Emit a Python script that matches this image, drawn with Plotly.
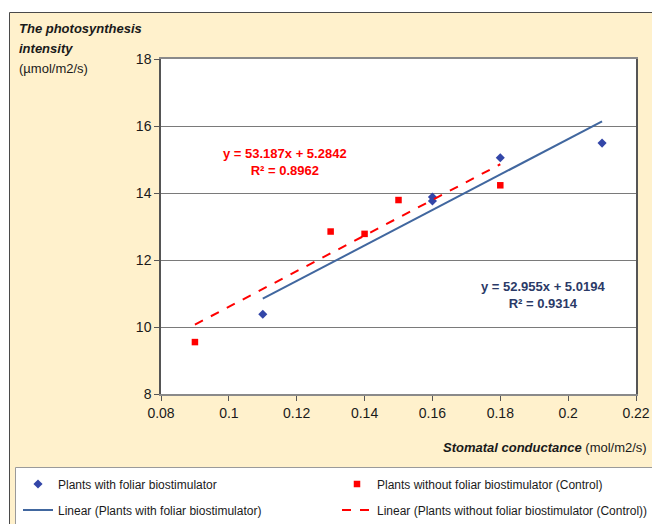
import plotly.graph_objects as go

# ---- data ----
x_with = [0.11, 0.16, 0.16, 0.18, 0.21]
y_with = [10.38, 13.88, 13.76, 15.05, 15.49]
x_ctrl = [0.09, 0.13, 0.14, 0.15, 0.18]
y_ctrl = [9.55, 12.85, 12.78, 13.79, 14.23]

fit_with = (52.955, 5.0194)   # slope, intercept (Excel trendline)
fit_ctrl = (53.187, 5.2842)

name_with = "Plants with foliar biostimulator"
name_ctrl = "Plants without foliar biostimulator (Control)"
eq_with = "y = 52.955x + 5.0194<br>R² = 0.9314"
eq_ctrl = "y = 53.187x + 5.2842<br>R² = 0.8962"
y_title_lines = ["<b><i>The photosynthesis</i></b>", "<b><i>intensity</i></b>", "(µmol/m2/s)"]
x_title = "<b><i>Stomatal conductance</i></b> (mol/m2/s)"

x_ticks = [0.08, 0.10, 0.12, 0.14, 0.16, 0.18, 0.20, 0.22]
x_ticktext = ["0.08", "0.1", "0.12", "0.14", "0.16", "0.18", "0.2", "0.22"]
y_ticks = [8, 10, 12, 14, 16, 18]

# ---- geometry (pixels) ----
W, H = 652, 524
L, R, T, B = 161, 16, 59, 130
PW, PH = W - L - R, H - T - B

def px(x):
    return (x - L) / PW

def py(y):
    return (H - B - y) / PH

FONT = "Liberation Sans Narrow, Arial Narrow, Liberation Sans, Arial, sans-serif"
BLUE_M = "#3346A8"
BLUE_L = "#41679F"
RED = "#FF0000"
NAVY = "#2B3A67"
TXT = "#1a1a1a"

def line_pts(xs, fit):
    a, b = fit
    xx = [min(xs), max(xs)]
    return xx, [a * v + b for v in xx]

fig = go.Figure()

fig.add_trace(go.Scatter(x=x_with, y=y_with, mode="markers", name=name_with,
                         marker=dict(symbol="diamond", size=7, color=BLUE_M),
                         legend="legend"))
fig.add_trace(go.Scatter(x=x_ctrl, y=y_ctrl, mode="markers", name=name_ctrl,
                         marker=dict(symbol="square", size=6.5, color=RED),
                         legend="legend"))
lx, ly = line_pts(x_with, fit_with)
fig.add_trace(go.Scatter(x=lx, y=ly, mode="lines", name="Linear (" + name_with + ")",
                         line=dict(color=BLUE_L, width=2), legend="legend2"))
lx, ly = line_pts(x_ctrl, fit_ctrl)
fig.add_trace(go.Scatter(x=lx, y=ly, mode="lines", name="Linear (" + name_ctrl + ")",
                         line=dict(color=RED, width=2, dash="dash"), legend="legend2"))

shapes = [
    # cream chart area
    dict(type="rect", xref="paper", yref="paper", layer="below",
         x0=px(9.5), x1=px(670), y0=py(540), y1=py(12.5),
         fillcolor="#FFF1CC", line=dict(color="#4a4a4a", width=1)),
    # white plot area
    dict(type="rect", xref="paper", yref="paper", layer="below",
         x0=0, x1=1, y0=0, y1=1, fillcolor="white", line=dict(width=0)),
    # legend box
    dict(type="rect", xref="paper", yref="paper", layer="below",
         x0=px(15.5), x1=px(670), y0=py(540), y1=py(467.5),
         fillcolor="white", line=dict(color="#9a9a9a", width=1)),
]

annotations = []
for txt, yy in zip(y_title_lines, [29, 49, 69]):
    annotations.append(dict(text=txt, x=px(17), y=py(yy), xref="paper", yref="paper",
                            xanchor="left", yanchor="middle", showarrow=False,
                            font=dict(family=FONT, size=13, color=TXT)))
annotations += [
    dict(text=x_title, x=px(649), y=py(447), xref="paper", yref="paper",
         xanchor="right", yanchor="middle", showarrow=False,
         font=dict(family=FONT, size=13, color=TXT)),
    dict(text="<b>" + eq_ctrl + "</b>", x=px(285), y=py(162), xref="paper", yref="paper",
         xanchor="center", yanchor="middle", showarrow=False,
         font=dict(family=FONT, size=13, color=RED)),
    dict(text="<b>" + eq_with + "</b>", x=px(543), y=py(295), xref="paper", yref="paper",
         xanchor="center", yanchor="middle", showarrow=False,
         font=dict(family=FONT, size=13, color=NAVY)),
]

leg_common = dict(orientation="h", bgcolor="rgba(0,0,0,0)", borderwidth=0,
                  font=dict(family=FONT, size=12, color=TXT),
                  entrywidth=274, entrywidthmode="pixels",
                  xanchor="left", yanchor="middle", x=px(18))

fig.update_layout(
    width=W, height=H,
    margin=dict(l=L, r=R, t=T, b=B, autoexpand=False),
    paper_bgcolor="white", plot_bgcolor="rgba(0,0,0,0)",
    showlegend=True,
    legend=dict(**leg_common, y=py(484)),
    legend2=dict(**leg_common, y=py(510)),
    shapes=shapes, annotations=annotations,
    xaxis=dict(range=[0.08, 0.22], tickvals=x_ticks, ticktext=x_ticktext,
               showgrid=False, zeroline=False, showline=True, linecolor="#8a8a8a",
               linewidth=1.5, mirror=True, ticks="outside", ticklen=5, tickcolor="#555",
               tickfont=dict(family=FONT, size=14, color=TXT)),
    yaxis=dict(range=[8, 18], tickvals=y_ticks, showgrid=True, gridcolor="#7a7a7a",
               gridwidth=1, zeroline=False, showline=True, linecolor="#555",
               linewidth=1.5, mirror=True, ticks="outside", ticklen=5, tickcolor="#555",
               tickfont=dict(family=FONT, size=14, color=TXT)),
)

fig.write_html("out.html", config={"displayModeBar": False},
               post_script="document.body.style.margin='0';")
